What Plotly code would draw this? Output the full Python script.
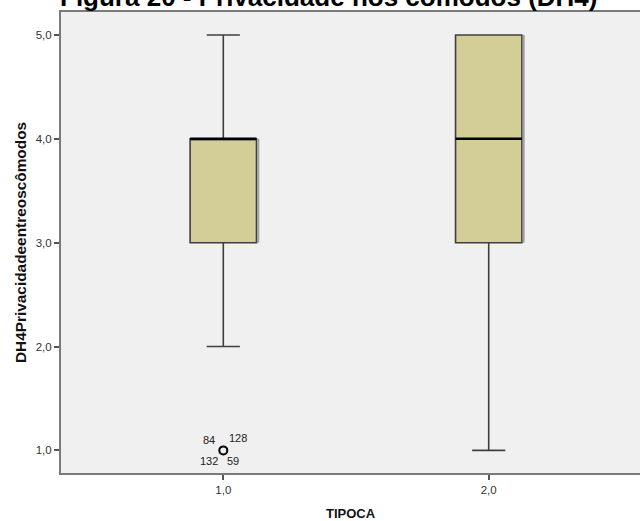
import plotly.graph_objects as go

# ---- data ----
categories = [1.0, 2.0]
q1 = [3.0, 3.0]
median = [4.0, 4.0]
q3 = [4.0, 5.0]
lower_whisker = [2.0, 1.0]
upper_whisker = [5.0, 5.0]
outlier_x = [1.0]
outlier_y = [1.0]
outlier_case_labels = ["84", "128", "132", "59"]
y_ticks = [1.0, 2.0, 3.0, 4.0, 5.0]
x_ticks = [1.0, 2.0]

title_text = "Figura 20 - Privacidade nos cômodos (DH4)"
x_title = "TIPOCA"
y_title = "DH4Privacidadeentreoscômodos"

# ---- style ----
FONT = "Arial, Liberation Sans, sans-serif"
BOX_W = 0.25
BOX_FILL = "#d3ce97"
BOX_LINE = "#3f3f3f"
SHADOW_OFF = 1.8 / 265.4  # ~2 px to the right, in x units

fig = go.Figure()

for i, c in enumerate(categories):
    # light shadow on the right side of the box
    fig.add_trace(go.Scatter(
        x=[c + BOX_W / 2 + SHADOW_OFF, c + BOX_W / 2 + SHADOW_OFF],
        y=[q1[i], q3[i]],
        mode="lines", line=dict(color="#a0a0a0", width=2),
        showlegend=False, hoverinfo="skip",
    ))
    fig.add_trace(go.Box(
        x=[c], q1=[q1[i]], median=[median[i]], q3=[q3[i]],
        lowerfence=[lower_whisker[i]], upperfence=[upper_whisker[i]],
        width=BOX_W, whiskerwidth=0.5,
        fillcolor=BOX_FILL, line=dict(color=BOX_LINE, width=1.6),
        boxpoints=False, showlegend=False, hoverinfo="skip",
    ))
    # thick black median line
    fig.add_trace(go.Scatter(
        x=[c - BOX_W / 2, c + BOX_W / 2], y=[median[i], median[i]],
        mode="lines", line=dict(color="#000000", width=2.4),
        showlegend=False, hoverinfo="skip",
    ))

fig.add_trace(go.Scatter(
    x=outlier_x, y=outlier_y, mode="markers",
    marker=dict(symbol="circle-open", size=8, color="#000000",
                line=dict(width=2, color="#000000")),
    showlegend=False, hoverinfo="skip",
))

offsets = [(-14, 10), (15, 12), (-14, -11), (10, -11)]
for lab, (dx, dy) in zip(outlier_case_labels, offsets):
    fig.add_annotation(x=outlier_x[0], y=outlier_y[0], text=lab, showarrow=False,
                       xshift=dx, yshift=dy,
                       font=dict(family=FONT, size=11, color="#222222"))

fig.add_annotation(xref="paper", yref="paper", x=(328 - 61) / 579, y=1,
                   xanchor="center", yanchor="bottom", yshift=-2,
                   text="<b>" + title_text + "</b>", showarrow=False,
                   font=dict(family=FONT, size=26, color="#000000"))

fig.update_layout(
    width=640, height=521,
    margin=dict(l=61, r=0, t=12, b=48),
    paper_bgcolor="#ffffff", plot_bgcolor="#f0f0f0",
    separators=",.",
    font=dict(family=FONT, color="#333333"),
    showlegend=False,
)
fig.update_xaxes(
    range=[0.3885, 2.57], tickvals=x_ticks, tickformat=".1f",
    showgrid=False, zeroline=False,
    showline=True, mirror=True, linecolor="#7a7a7a", linewidth=2,
    ticks="outside", ticklen=5, tickwidth=1.5, tickcolor="#555555",
    tickfont=dict(size=11.5, color="#333333"),
    title=dict(text="<b>" + x_title + "</b>", font=dict(size=13, color="#111111"), standoff=14),
)
fig.update_yaxes(
    range=[0.7825, 5.221], tickvals=y_ticks, tickformat=".1f",
    showgrid=False, zeroline=False,
    showline=True, mirror=False, linecolor="#7a7a7a", linewidth=2,
    ticks="outside", ticklen=5, tickwidth=1.5, tickcolor="#555555",
    tickfont=dict(size=11.5, color="#333333"),
    title=dict(text="<b>" + y_title + "</b>", font=dict(size=15.4, color="#111111"), standoff=5),
)

fig.write_html("out.html")
